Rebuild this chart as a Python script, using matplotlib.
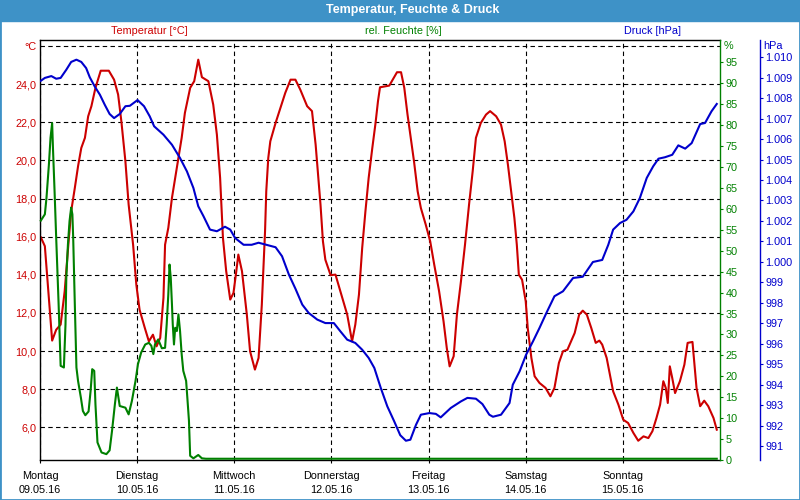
import matplotlib.pyplot as plt
from matplotlib.patches import Rectangle

plt.rcParams["font.family"] = ["Liberation Sans", "DejaVu Sans"]
plt.rcParams["font.size"] = 7.8

RED = "#cc0000"
GREEN = "#008000"
BLUE = "#0000cc"
FRAME = "#3e92c7"

# hours since Monday 09.05.16 00:00
temp_hours = [0.2, 1.2, 1.8, 2.4, 3.0, 4.0, 5.1, 6.1, 7.1, 7.7, 8.6, 9.4, 10.2, 11.1,
              11.9, 12.7, 13.7, 15.0, 17.0, 18.3, 19.3, 20.1, 21.1, 21.9, 23.0, 23.8,
              24.6, 25.9, 26.9, 27.9, 28.8, 29.7, 30.5, 30.9, 31.7, 32.6, 33.4, 34.2,
              35.0, 35.8, 37.1, 38.1, 39.1, 40.0, 41.6, 42.8, 43.7, 44.5, 45.2, 46.0,
              47.0, 47.8, 48.5, 49.0, 49.9, 51.1, 51.9, 53.1, 54.0, 54.8, 55.6, 55.9,
              56.4, 56.9, 58.2, 59.4, 60.6, 61.9, 63.1, 64.3, 66.0, 67.2, 68.1, 68.5,
              69.3, 69.9, 70.5, 71.8, 73.0, 74.2, 75.9, 77.1, 77.9, 78.8, 79.6, 80.4,
              81.2, 82.1, 82.9, 83.5, 84.0, 86.3, 88.2, 89.2, 90.0, 90.8, 91.6, 92.4,
              93.3, 94.1, 95.3, 96.4, 97.4, 98.6, 99.7, 100.5, 101.2, 102.2, 103.0,
              104.0, 105.0, 106.0, 106.9, 107.7, 108.9, 110.2, 111.2, 112.7, 113.9,
              114.8, 115.6, 116.4, 117.2, 117.8, 118.3, 119.1, 120.0, 120.5, 121.4,
              122.2, 123.4, 124.9, 126.1, 127.1, 128.2, 129.2, 130.3, 132.1, 133.2,
              134.1, 135.1, 136.2, 137.3, 138.2, 138.9, 140.0, 140.8, 141.6, 142.9,
              144.1, 145.3, 146.6, 147.8, 149.1, 150.3, 151.3, 152.3, 153.2, 154.0,
              154.6, 155.1, 155.6, 156.2, 156.9, 158.1, 159.2, 160.0, 161.2, 162.2,
              163.1, 164.1, 165.1, 166.4, 167.2]
temp_values = [15.97, 15.50, 13.83, 12.09, 10.55, 11.12, 11.39, 13.14, 15.84, 17.33,
               18.55, 19.69, 20.65, 21.18, 22.31, 22.84, 23.80, 24.70, 24.70, 24.23,
               23.45, 22.05, 19.95, 17.68, 15.58, 13.48, 12.17, 11.21, 10.51, 10.86,
               10.25, 10.69, 12.79, 15.58, 16.46, 18.03, 19.08, 20.13, 21.18, 22.49,
               23.80, 24.15, 25.28, 24.36, 24.15, 22.92, 21.35, 19.08, 15.93, 14.19,
               12.70, 13.05, 14.19, 15.06, 14.19, 11.91, 9.99, 9.03, 9.64, 12.43,
               16.28, 18.38, 20.13, 21.00, 21.96, 22.75, 23.54, 24.23, 24.23, 23.71,
               22.84, 22.58, 20.82, 19.78, 17.68, 15.76, 14.79, 13.98, 14.01, 13.14,
               11.91, 10.51, 11.39, 12.96, 15.41, 17.33, 19.08, 20.65, 21.96, 23.10,
               23.83, 23.92, 24.62, 24.62, 23.80, 22.40, 21.18, 19.95, 18.38, 17.50,
               16.63, 15.76, 14.53, 13.14, 11.56, 10.16, 9.20, 9.73, 11.91, 13.66,
               15.58, 17.68, 19.43, 21.18, 21.96, 22.40, 22.58, 22.31, 21.87, 21.00,
               19.78, 18.38, 16.98, 15.58, 14.01, 13.74, 12.61, 11.21, 9.64, 8.68,
               8.33, 8.07, 7.63, 8.07, 9.38, 9.99, 10.07, 10.95, 11.91, 12.12, 11.91,
               11.21, 10.43, 10.55, 10.34, 9.64, 8.76, 7.89, 7.19, 6.40, 6.23, 5.71,
               5.30, 5.53, 5.44, 5.80, 6.49, 7.19, 8.42, 8.07, 7.28, 9.20, 8.59, 7.80,
               8.42, 9.29, 10.43, 10.48, 8.07, 7.11, 7.40, 7.11, 6.49, 5.88]

hum_hours = [0.2, 1.2, 1.6, 2.2, 2.6, 3.0, 3.2, 3.6, 4.0, 4.3, 4.6, 4.9, 5.1, 5.9, 6.3,
             6.5, 6.9, 7.3, 7.7, 8.0, 8.2, 8.6, 9.0, 9.4, 10.1, 10.6, 11.2, 12.0, 12.5,
             12.9, 13.4, 13.7, 14.2, 15.2, 16.4, 17.2, 17.8, 18.5, 19.0, 19.7, 21.1,
             21.9, 22.7, 23.6, 24.2, 25.0, 26.0, 26.9, 27.5, 28.0, 28.4, 29.2, 30.1,
             30.9, 31.3, 31.7, 32.0, 32.3, 32.6, 32.8, 33.1, 33.4, 33.8, 34.2, 34.6,
             35.0, 35.4, 36.1, 36.4, 36.8, 37.1, 37.9, 39.1, 40.0, 41.0, 167.2]
hum_values = [57.2, 58.7, 62.6, 70.6, 77.0, 80.5, 74.6, 64.2, 53.1, 45.2, 37.2, 28.4,
              22.5, 22.1, 32.4, 43.6, 51.5, 57.1, 60.3, 58.7, 53.1, 37.2, 22.1, 18.9,
              14.9, 11.7, 10.7, 11.6, 16.5, 21.7, 21.3, 13.3, 4.2, 1.8, 1.4, 2.3, 7.0,
              13.3, 17.3, 12.9, 12.5, 10.9, 14.1, 18.9, 22.9, 25.7, 27.6, 28.0, 27.3,
              25.3, 27.6, 28.8, 26.7, 26.8, 32.4, 39.6, 46.7, 43.6, 37.2, 32.4, 27.6,
              31.6, 30.8, 34.8, 30.8, 25.3, 21.3, 18.9, 14.9, 9.4, 1.0, 0.4, 1.2, 0.4,
              0.3, 0.3]

press_hours = [0.2, 1.2, 2.8, 4.0, 5.1, 6.5, 7.7, 9.0, 10.2, 11.4, 12.3, 13.5, 14.8,
               16.0, 17.2, 18.3, 19.7, 21.1, 22.2, 24.1, 25.7, 27.1, 28.2, 30.5, 32.6,
               34.6, 36.3, 37.9, 39.1, 40.4, 42.0, 43.7, 45.7, 47.0, 48.2, 50.3, 52.3,
               54.0, 55.9, 58.2, 59.8, 61.5, 63.1, 64.8, 66.4, 68.5, 70.5, 72.6, 74.2,
               75.9, 77.9, 79.6, 81.2, 82.6, 84.2, 85.8, 87.5, 89.0, 90.4, 91.5, 92.9,
               94.1, 96.2, 97.8, 99.0, 101.5, 104.0, 105.6, 107.7, 109.3, 111.0, 111.9,
               113.9, 116.0, 116.8, 118.5, 120.1, 121.8, 123.4, 125.1, 127.1, 129.2,
               131.7, 134.1, 136.6, 138.9, 140.4, 141.6, 143.3, 144.9, 146.6, 148.2,
               149.9, 151.5, 152.8, 154.4, 156.2, 157.7, 159.4, 161.0, 163.1, 164.3,
               165.9, 167.2]
press_values = [1008.84, 1008.98, 1009.07, 1008.94, 1008.98, 1009.38, 1009.76, 1009.87,
                1009.76, 1009.46, 1009.01, 1008.57, 1008.16, 1007.67, 1007.22, 1007.02,
                1007.22, 1007.60, 1007.62, 1007.90, 1007.60, 1007.11, 1006.62, 1006.21,
                1005.72, 1005.07, 1004.42, 1003.61, 1002.72, 1002.23, 1001.58, 1001.50,
                1001.72, 1001.58, 1001.17, 1000.84, 1000.84, 1000.94, 1000.84, 1000.72,
                1000.28, 999.38, 998.70, 997.92, 997.51, 997.19, 997.02, 997.02, 996.62,
                996.21, 996.05, 995.72, 995.32, 994.83, 993.85, 992.96, 992.23, 991.55,
                991.28, 991.33, 992.06, 992.55, 992.63, 992.59, 992.42, 992.88, 993.20,
                993.37, 993.33, 993.07, 992.55, 992.45, 992.55, 993.12, 994.01, 994.67,
                995.48, 996.13, 996.78, 997.51, 998.33, 998.57, 999.22, 999.28, 1000.00,
                1000.10, 1000.84, 1001.58, 1001.90, 1002.06, 1002.47, 1003.12, 1004.10,
                1004.67, 1005.04, 1005.11, 1005.23, 1005.69, 1005.53, 1005.80, 1006.73,
                1006.78, 1007.35, 1007.71]

day_names = ["Montag", "Dienstag", "Mittwoch", "Donnerstag", "Freitag", "Samstag", "Sonntag"]
day_dates = ["09.05.16", "10.05.16", "11.05.16", "12.05.16", "13.05.16", "14.05.16", "15.05.16"]
temp_ticks = [6, 8, 10, 12, 14, 16, 18, 20, 22, 24, 26]
hum_ticks = list(range(0, 100, 5))
press_ticks = list(range(991, 1011))

W, H = 800, 500
fig = plt.figure(figsize=(8, 5), dpi=100)
fig.patches.append(Rectangle((0, 1 - 21 / H), 1, 21 / H, transform=fig.transFigure,
                             color=FRAME, zorder=0))
fig.patches.append(Rectangle((0, 0), 1, 1, transform=fig.transFigure, fill=False,
                             edgecolor=FRAME, lw=2, zorder=5))
fig.text(413 / W, 1 - 10.5 / H, "Temperatur, Feuchte & Druck", color="white",
         fontweight="bold", fontsize=9, ha="center", va="center")

ax = fig.add_axes([40 / W, 40 / H, 680 / W, 420 / H])
ax_h = ax.twinx()
ax_p = ax.twinx()

dash = (0, (4, 3))
ax.plot(temp_hours, temp_values, color=RED, lw=1.5)
ax.set_xlim(0, 168)
ax.set_ylim(4.29, 26.31)
ax.set_yticks(temp_ticks)
ax.set_yticklabels([f"{v:.1f}".replace(".", ",") for v in temp_ticks[:-1]] + ["°C"])
ax.set_xticks([24 * i for i in range(7)])
ax.set_xticklabels([f"{n}\n{d}" for n, d in zip(day_names, day_dates)], linespacing=1.6)
ax.tick_params(axis="y", length=0, pad=2.5, labelcolor=RED)
ax.tick_params(axis="x", length=2.2, width=0.8, pad=5.5, labelcolor="black")
ax.grid(True, color="black", linestyle=dash, lw=0.8)
ax.spines["right"].set_visible(False)
for s in ["left", "top", "bottom"]:
    ax.spines[s].set_linewidth(1.0)

ax_h.plot(hum_hours, hum_values, color=GREEN, lw=1.5, clip_on=False)
ax_h.set_ylim(0, 100.35)
ax_h.set_yticks(hum_ticks)
ax_h.tick_params(axis="y", colors=GREEN, length=2.5, width=0.8, pad=1.5)
for s in ["left", "top", "bottom"]:
    ax_h.spines[s].set_visible(False)
ax_h.spines["right"].set_color(GREEN)
ax_h.spines["right"].set_linewidth(1.0)

ax_p.plot(press_hours, press_values, color=BLUE, lw=1.5)
ax_p.set_ylim(990.34, 1010.83)
ax_p.set_yticks(press_ticks)
ax_p.set_yticklabels([f"{v / 1000:.3f}" if v >= 1000 else str(v) for v in press_ticks])
ax_p.tick_params(axis="y", colors=BLUE, length=2.5, width=0.8, pad=1.5)
ax_p.spines["right"].set_position(("outward", 28.8))
ax_p.spines["right"].set_color(BLUE)
ax_p.spines["right"].set_linewidth(1.0)
for s in ["left", "top", "bottom"]:
    ax_p.spines[s].set_visible(False)

fig.text(724 / W, 1 - 46 / H, "%", color=GREEN, va="center", ha="left")
fig.text(763 / W, 1 - 46 / H, "hPa", color=BLUE, va="center", ha="left")

fig.text(149 / W, 1 - 31 / H, "Temperatur [°C]", color=RED, ha="center", va="center")
fig.text(403 / W, 1 - 31 / H, "rel. Feuchte [%]", color=GREEN, ha="center", va="center")
fig.text(652 / W, 1 - 31 / H, "Druck [hPa]", color=BLUE, ha="center", va="center")

fig.savefig("out.png", dpi=100)
